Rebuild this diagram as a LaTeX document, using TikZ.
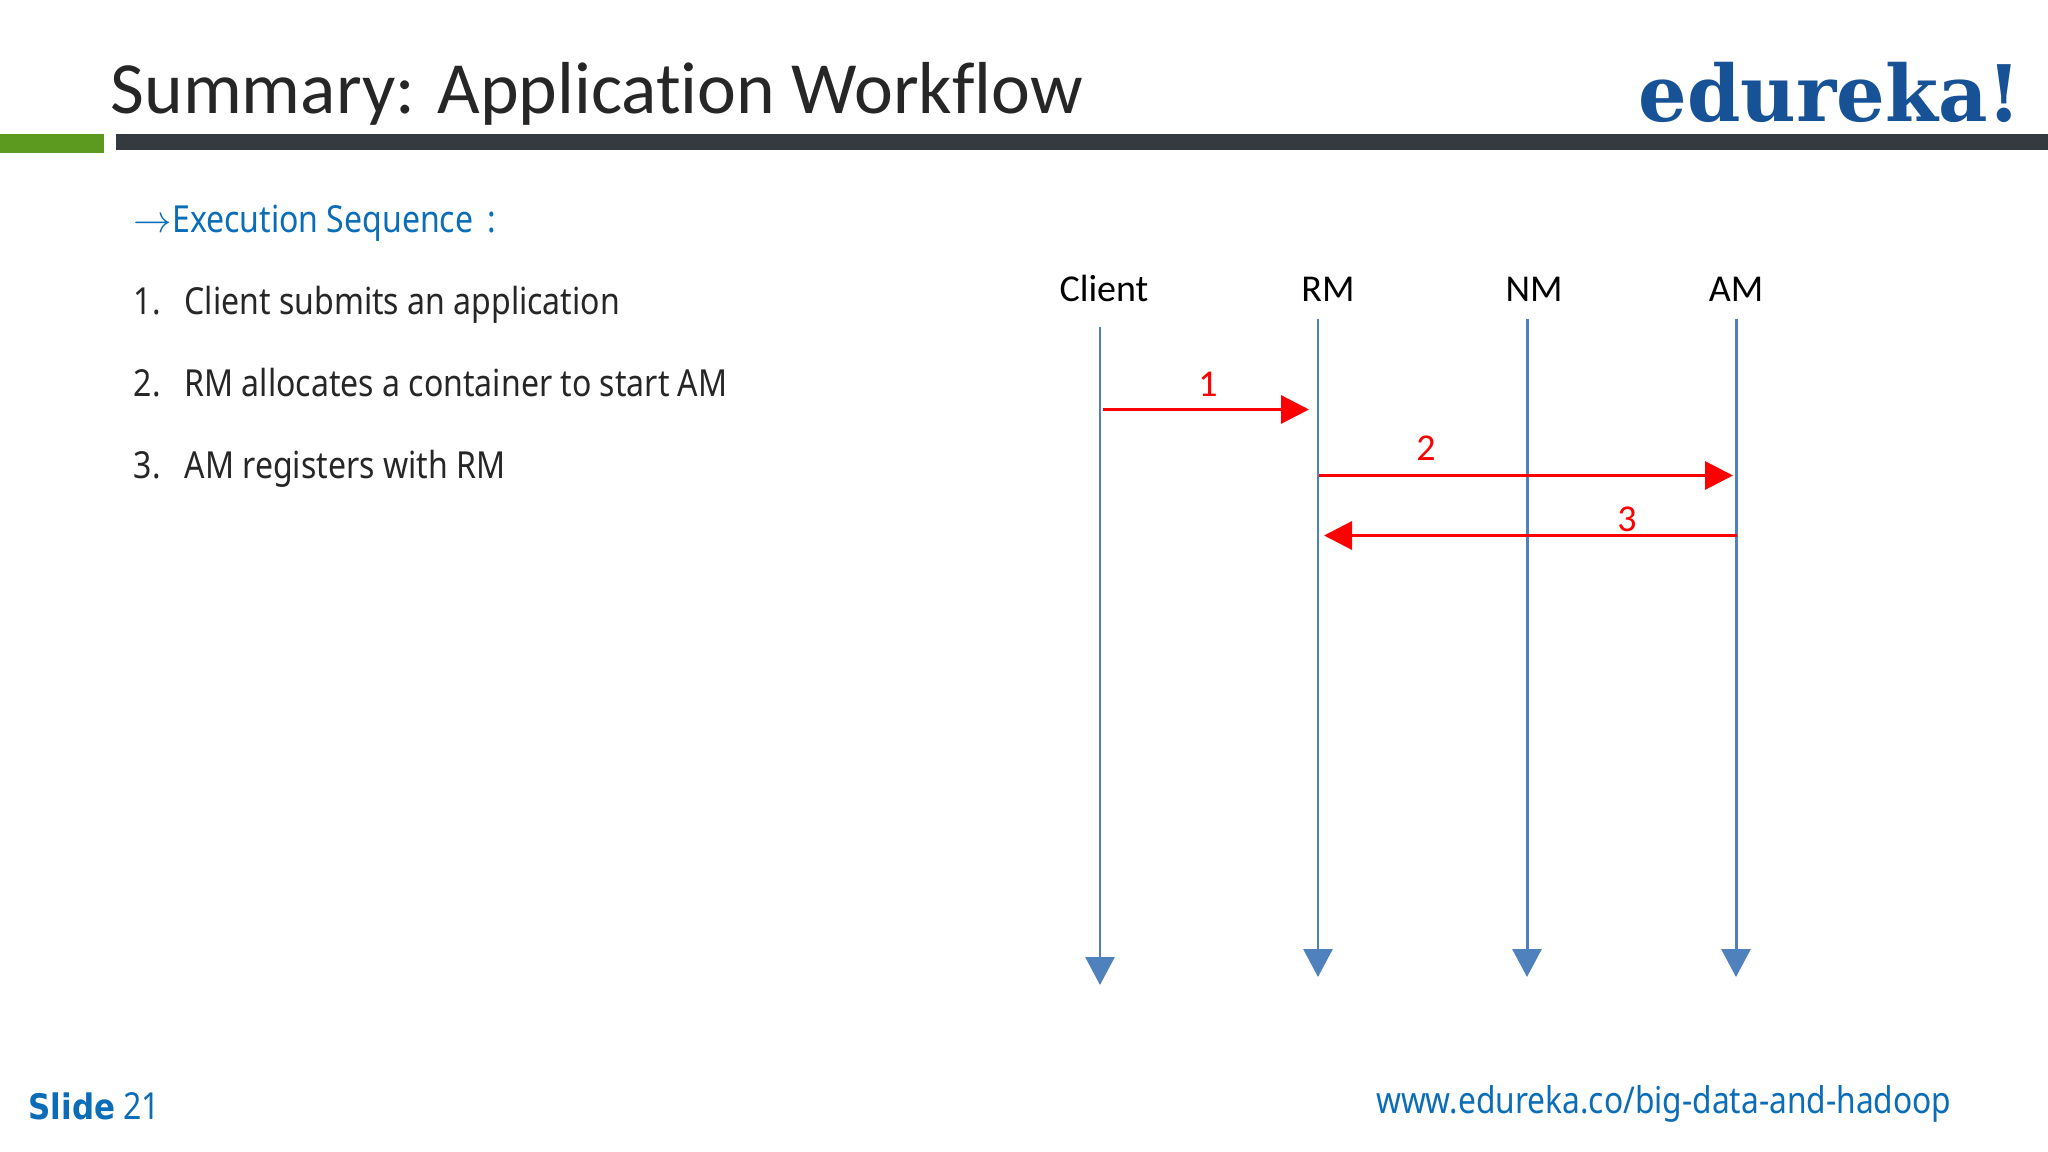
\documentclass[tikz,border=0pt]{standalone}
\usepackage{amsmath}
\usepackage{fontspec}
\usepackage{tikz}
\usetikzlibrary{arrows.meta}
\setmainfont[Ligatures=NoCommon]{Carlito}
\newfontfamily\bodyfont[FakeStretch=0.86]{Noto Sans}
\newfontfamily\slidefont[FakeStretch=0.88]{DejaVu Sans}
\newfontfamily\logofont[FakeStretch=0.98]{DejaVu Serif}
\definecolor{lblue}{RGB}{79, 129, 189}
\definecolor{lred}{RGB}{255, 0, 0}
\definecolor{tblue}{RGB}{11, 109, 183}
\definecolor{tgray}{RGB}{38, 38, 38}
\definecolor{lgreen}{RGB}{91, 154, 30}
\definecolor{ldark}{RGB}{53, 58, 64}
\definecolor{logoblue}{RGB}{24, 82, 150}
\tikzset{
	lifeline/.style = {color = lblue, line width = 0.85pt, -{Triangle[length = 0.28cm, width = 0.29cm]}},
	message/.style = {color = lred, line width = 0.9pt, -{Triangle[length = 0.28cm, width = 0.28cm]}},
	head/.style = {anchor = base, inner sep = 0pt, text = black, font = \fontsize{10.8}{12}\selectfont},
	num/.style = {anchor = base, inner sep = 0pt, text = lred, font = \fontsize{10.8}{12}\selectfont},
	item/.style = {anchor = base west, inner sep = 0pt, text = tgray, font = \bodyfont\fontsize{10.6}{12}\selectfont},
	blue item/.style = {item, text = tblue}
}

\begin{document}
\begin{tikzpicture}
			\useasboundingbox [fill = white] (0,0) rectangle (20.48,-11.52);
			\fill [lgreen] (0,-1.345) rectangle (1.04,-1.53);
			\fill [ldark] (1.16,-1.345) rectangle (20.48,-1.50);
			\node (title) at (1.10,-1.14) [anchor = base west, inner sep = 0pt, text = tgray, font = \fontsize{20.95}{24}\selectfont] {Summary: Application Workflow};
			\node (logo) at (20.22,-1.22) [anchor = base east, inner sep = 0pt, text = logoblue, font = \logofont\bfseries\fontsize{22.2}{26}\selectfont] {edureka!};
			\node (seq) at (1.33,-2.325) [blue item] {$\rightarrow$Execution Sequence\hspace{0.06cm} :};
			\node (one) at (1.33,-3.145) [item] {\makebox[0.51cm][l]{1.}Client submits an application};
			\node (two) at (1.33,-3.965) [item] {\makebox[0.51cm][l]{2.}RM allocates a container to start AM};
			\node (three) at (1.33,-4.785) [item] {\makebox[0.51cm][l]{3.}AM registers with RM};
			\node (client) at (11.04,-3.015) [head] {Client};
			\node (rm) at (13.28,-3.015) [head] {RM};
			\node (nm) at (15.34,-3.015) [head] {NM};
			\node (am) at (17.36,-3.015) [head] {AM};
			\coordinate (ctop) at (11.00,-3.27);
			\coordinate (cbot) at (11.00,-9.85);
			\coordinate (rtop) at (13.18,-3.19);
			\coordinate (rbot) at (13.18,-9.77);
			\coordinate (ntop) at (15.27,-3.19);
			\coordinate (nbot) at (15.27,-9.77);
			\coordinate (atop) at (17.36,-3.19);
			\coordinate (abot) at (17.36,-9.77);
			\draw [lifeline] (ctop) -- (cbot);
			\draw [lifeline] (rtop) -- (rbot);
			\draw [lifeline] (ntop) -- (nbot);
			\draw [lifeline] (atop) -- (abot);
			\coordinate (m1s) at (11.03,-4.095);
			\coordinate (m1e) at (13.09,-4.095);
			\coordinate (m2s) at (13.19,-4.755);
			\coordinate (m2e) at (17.33,-4.755);
			\coordinate (m3s) at (17.37,-5.355);
			\coordinate (m3e) at (13.24,-5.355);
			\draw [message] (m1s) -- (m1e);
			\draw [message] (m2s) -- (m2e);
			\draw [message] (m3s) -- (m3e);
			\node (l1) at (12.08,-3.965) [num] {1};
			\node (l2) at (14.26,-4.605) [num] {2};
			\node (l3) at (16.27,-5.315) [num] {3};
			\node (slide) at (0.28,-11.19) [anchor = base west, inner sep = 0pt, text = tblue, font = \bodyfont\fontsize{10.6}{12}\selectfont] {{\slidefont\bfseries\fontsize{10}{12}\selectfont Slide} 21};
			\node (url) at (19.52,-11.13) [anchor = base east, inner sep = 0pt, text = tblue, font = \bodyfont\fontsize{10.5}{12}\selectfont] {www.edureka.co/big-data-and-hadoop};
			\end{tikzpicture}
\end{document}
